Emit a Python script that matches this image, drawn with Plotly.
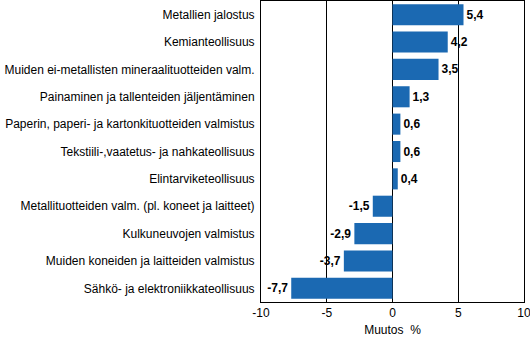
import plotly.graph_objects as go

categories = [
    "Metallien jalostus",
    "Kemianteollisuus",
    "Muiden ei-metallisten mineraalituotteiden valm.",
    "Painaminen ja tallenteiden jäljentäminen",
    "Paperin, paperi- ja kartonkituotteiden valmistus",
    "Tekstiili-,vaatetus- ja nahkateollisuus",
    "Elintarviketeollisuus",
    "Metallituotteiden valm. (pl. koneet ja laitteet)",
    "Kulkuneuvojen valmistus",
    "Muiden koneiden ja laitteiden valmistus",
    "Sähkö- ja elektroniikkateollisuus",
]
values = [5.4, 4.2, 3.5, 1.3, 0.6, 0.6, 0.4, -1.5, -2.9, -3.7, -7.7]
value_labels = [f"{v:.1f}".replace(".", ",") for v in values]
x_ticks = [-10, -5, 0, 5, 10]
x_tick_labels = ["-10", "-5", "0", "5", "10"]

fig = go.Figure()
fig.add_trace(go.Bar(
    y=categories,
    x=values,
    orientation="h",
    marker=dict(color="#1b69b2", line=dict(width=0)),
    text=value_labels,
    textposition="outside",
    cliponaxis=False,
    textfont=dict(family="Liberation Sans Narrow, Arial Narrow, Liberation Sans, Arial", size=12, color="black", weight="bold"),
))

fig.update_layout(
    width=530, height=337,
    margin=dict(l=261, r=6, t=1, b=35),
    paper_bgcolor="white", plot_bgcolor="white",
    showlegend=False,
    bargap=0.23,
    font=dict(family="Liberation Sans, Arial", size=12, color="black"),
)
fig.update_xaxes(
    range=[-10, 10],
    automargin=False,
    tickvals=x_ticks, ticktext=x_tick_labels,
    ticklabeloverflow="allow",
    showgrid=True, gridcolor="black", gridwidth=1,
    zeroline=True, zerolinecolor="black", zerolinewidth=1,
    showline=True, linecolor="black", linewidth=1, mirror=True,
    ticks="",
    title=dict(text="Muutos\u00a0\u00a0%", font=dict(size=12), standoff=12),
)
fig.update_yaxes(
    autorange="reversed",
    automargin=False,
    showgrid=False,
    showline=True, linecolor="black", linewidth=1, mirror=True,
    ticks="", ticklabelstandoff=3,
)

fig.write_html("out.html")
